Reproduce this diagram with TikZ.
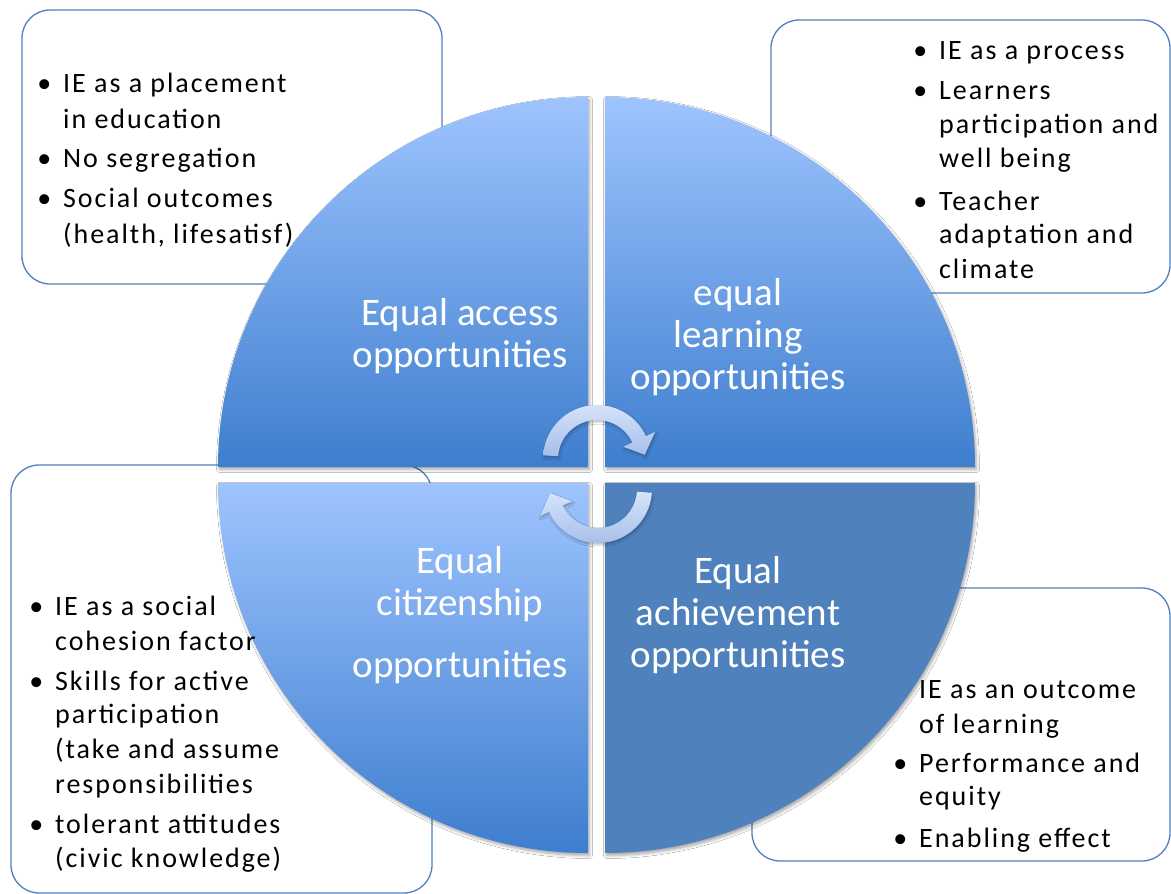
\documentclass[tikz,border=0pt]{standalone}
\usepackage{fontspec}
\setmainfont{Carlito}
\newfontfamily\bodyfnt[LetterSpace=7]{Carlito}
\usetikzlibrary{calc,shadows.blur}
\definecolor{qlight}{RGB}{158,196,255}
\definecolor{qdark}{RGB}{62,126,206}
\definecolor{qsolid}{RGB}{79,129,189}
\definecolor{boxline}{RGB}{79,129,189}
\definecolor{alight}{RGB}{214,228,251}
\definecolor{adark}{RGB}{166,190,233}
\newcommand\bu{\llap{\textbullet\hspace{12pt}}}
\begin{document}
\begin{tikzpicture}[x=1pt,y=-1pt,
  infobox/.style={draw=boxline,line width=1.3pt,rounded corners=28pt,fill=white},
  qshadow/.style={blur shadow={shadow xshift=1.5pt,shadow yshift=-2.5pt,shadow blur radius=3pt,shadow opacity=35}},
  quarter/.style={top color=qlight,bottom color=qdark,qshadow},
  quartersolid/.style={fill=qsolid,qshadow},
  btext/.style={font=\bodyfnt\fontsize{28}{34}\selectfont,inner sep=0pt,anchor=base west,text=black},
  qlabel/.style={font=\fontsize{39}{42}\selectfont,text=white,inner sep=0pt,anchor=base},
  cyc/.style={top color=alight,bottom color=adark,blur shadow={shadow xshift=1pt,shadow yshift=-2pt,shadow blur radius=2pt,shadow opacity=25}}]

\useasboundingbox (0,0) rectangle (1171,894);
\fill[white] (0,0) rectangle (1171,894);

% info boxes (behind the circle)
\draw[infobox] (22,10) rectangle (442,284);
\draw[infobox] (771,20) rectangle (1170,293);
\draw[infobox] (11,465) rectangle (432,893);
\draw[infobox] (752,588) rectangle (1170,861);

% quarters
\shade[quarter] (588,467) -- (218,467) arc[start angle=180,end angle=270,radius=370] -- cycle;
\shade[quarter] (605,467) -- (605,97) arc[start angle=270,end angle=360,radius=370] -- cycle;
\shade[quarter] (588,483) -- (588,853) arc[start angle=90,end angle=180,radius=370] -- cycle;
\fill[quartersolid] (605,483) -- (975,483) arc[start angle=0,end angle=90,radius=370] -- cycle;

% cycle arrows
\coordinate (c1) at (597,459);
\coordinate (c2) at (598,489);
\shade[cyc] ($(c1)+(184:54)$) arc[start angle=184,end angle=335,radius=54]
  -- ($(c1)+(335:64)$) -- ($(c1)+(355:48)$) -- ($(c1)+(335:29)$)
  -- ($(c1)+(335:39)$) arc[start angle=335,end angle=184,radius=39] -- cycle;
\shade[cyc] ($(c2)+(4:54)$) arc[start angle=4,end angle=155,radius=54]
  -- ($(c2)+(155:64)$) -- ($(c2)+(175:48)$) -- ($(c2)+(155:29)$)
  -- ($(c2)+(155:39)$) arc[start angle=155,end angle=4,radius=39] -- cycle;

% quarter labels
\node[qlabel] (a1) at (460,325) {Equal access};
\node[qlabel] (a2) at (460,367) {opportunities};
\node[qlabel] (l1) at (738,305) {equal};
\node[qlabel] (l2) at (738,347) {learning};
\node[qlabel] (l3) at (738,389) {opportunities};
\node[qlabel] (c1t) at (460,573) {Equal};
\node[qlabel] (c2t) at (460,615) {citizenship};
\node[qlabel] (c3t) at (460,677) {opportunities};
\node[qlabel] (e1) at (738,583) {Equal};
\node[qlabel] (e2) at (738,625) {achievement};
\node[qlabel] (e3) at (738,667) {opportunities};

% top-left box text
\node[btext] (tl1) at (63,92) {\bu IE as a placement};
\node[btext] (tl2) at (63,128) {in education};
\node[btext] (tl3) at (63,167) {\bu No segregation};
\node[btext] (tl4) at (63,207) {\bu Social outcomes};
\node[btext] (tl5) at (63,243) {(health, lifesatisf)};

% top-right box text
\node[btext] (tr1) at (939,59) {\bu IE as a process};
\node[btext] (tr2) at (939,99) {\bu Learners};
\node[btext] (tr3) at (939,133) {participation and};
\node[btext] (tr4) at (939,167) {well being};
\node[btext] (tr5) at (939,210) {\bu Teacher};
\node[btext] (tr6) at (939,243) {adaptation and};
\node[btext] (tr7) at (939,278) {climate};

% bottom-left box text
\node[btext] (bl1) at (55,615) {\bu IE as a social};
\node[btext] (bl2) at (55,650) {cohesion factor};
\node[btext] (bl3) at (55,690) {\bu Skills for active};
\node[btext] (bl4) at (55,723) {participation};
\node[btext] (bl5) at (55,758) {(take and assume};
\node[btext] (bl6) at (55,793) {responsibilities};
\node[btext] (bl7) at (55,833) {\bu tolerant attitudes};
\node[btext] (bl8) at (55,867) {(civic knowledge)};

% bottom-right box text
\node[btext] (br1) at (919,698) {IE as an outcome};
\node[btext] (br2) at (919,733) {of learning};
\node[btext] (br3) at (919,772) {\bu Performance and};
\node[btext] (br4) at (919,805) {equity};
\node[btext] (br5) at (919,847) {\bu Enabling effect};
\end{tikzpicture}
\end{document}
